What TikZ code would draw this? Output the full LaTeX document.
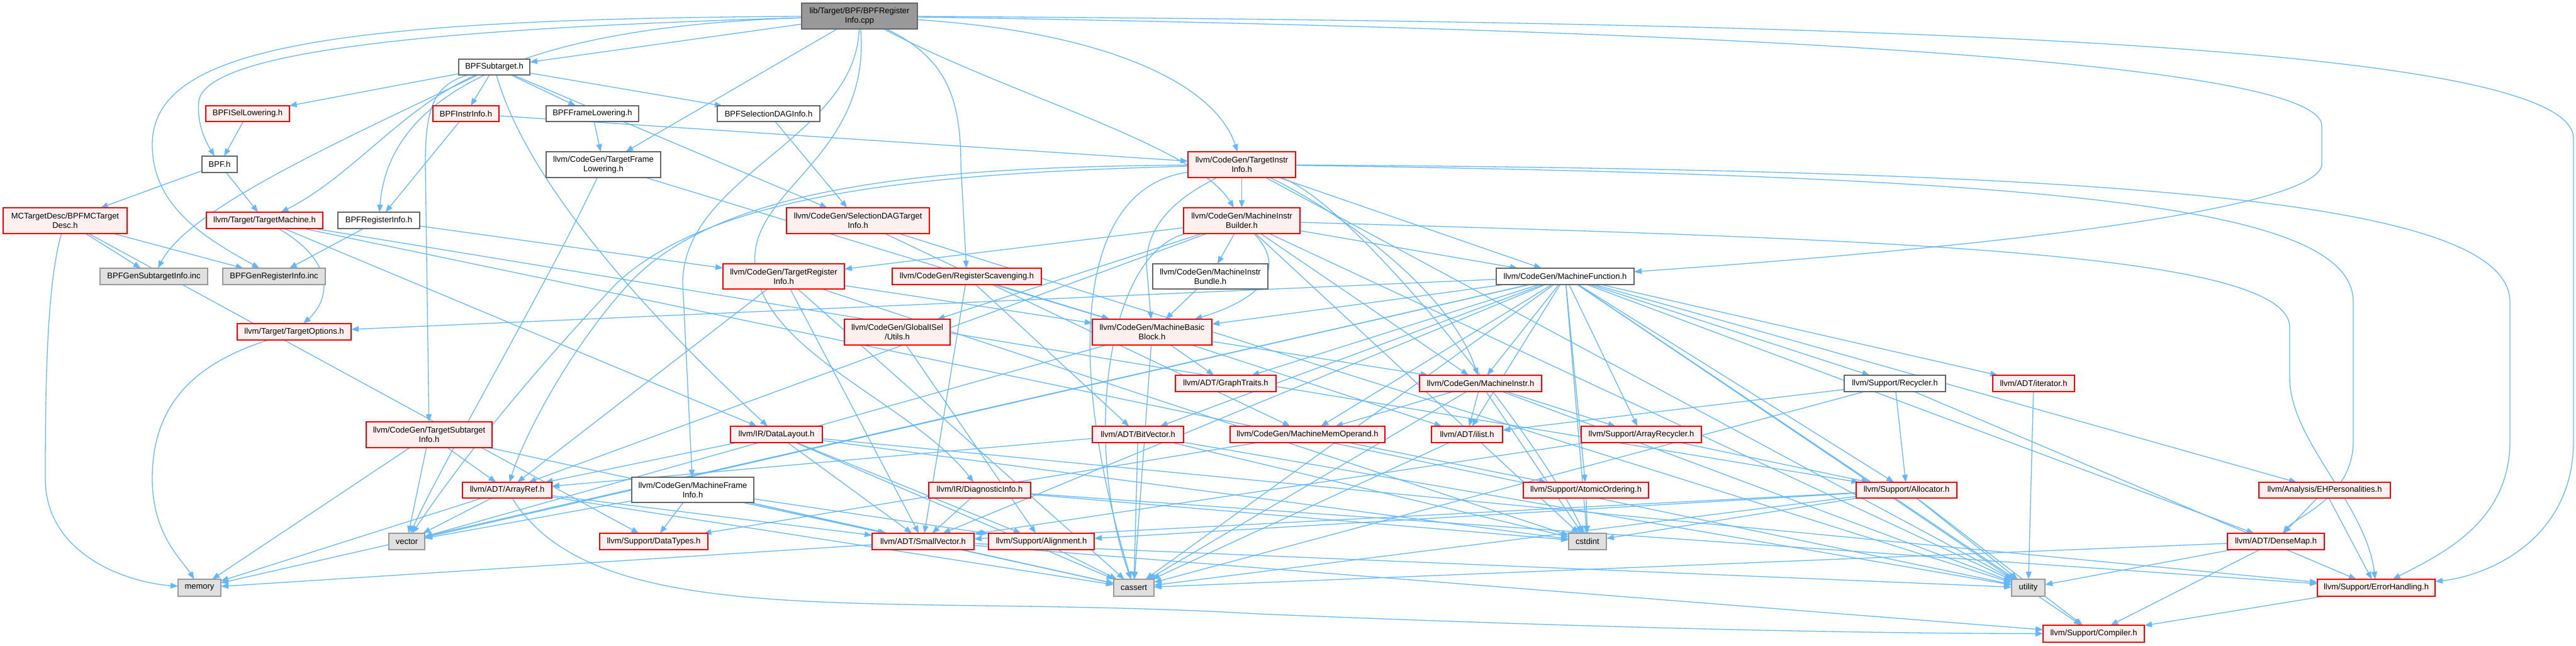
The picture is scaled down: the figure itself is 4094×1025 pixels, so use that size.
\documentclass[tikz,border=0pt]{standalone}
\usepackage{fontspec}
\setmainfont{Liberation Sans}
\usetikzlibrary{arrows.meta}
\pgfdeclarelayer{bg}
\pgfsetlayers{bg,main}
\definecolor{edgeblue}{HTML}{63B8FF}
\definecolor{redfill}{HTML}{FFF0F0}
\definecolor{grayfill}{HTML}{E0E0E0}
\definecolor{grayline}{HTML}{999999}
\definecolor{darkline}{HTML}{666666}
\newcommand\dxnode[7]{\node[#2, minimum width={(#5-#3)*1pt}, minimum height={(#6-#4)*1pt}] (#1) at ({(#3+#5)/2},{(#4+#6)/2}) {#7};}
\tikzset{
  basebox/.style={rectangle, inner sep=0pt, outer sep=0pt, align=center, font=\fontsize{13}{15}\selectfont, line width=1.5pt},
  rednode/.style={basebox, draw=red, fill=redfill},
  whitenode/.style={basebox, draw=darkline, fill=white},
  graynode/.style={basebox, draw=grayline, fill=grayfill},
  rootnode/.style={basebox, draw=darkline, fill=grayline},
  e/.style={draw=edgeblue, line width=1.3pt, -{Triangle[length=12pt,width=9pt]}, fill=none}
}
\begin{document}
\begin{tikzpicture}[x=1pt,y=-1pt]
\useasboundingbox (0,0) rectangle (4094,1025);
\dxnode{R}{rootnode}{1274}{5}{1458}{46}{lib/Target/BPF/BPFRegister\\Info.cpp}
\dxnode{SUB}{whitenode}{729}{94}{842}{119}{BPFSubtarget.h}
\dxnode{ISEL}{rednode}{327}{168}{460}{193}{BPFISelLowering.h}
\dxnode{INSTR}{rednode}{688}{168}{793}{193}{BPFInstrInfo.h}
\dxnode{FRAME}{whitenode}{868}{168}{1015}{193}{BPFFrameLowering.h}
\dxnode{SDAG}{whitenode}{1140}{168}{1303}{193}{BPFSelectionDAGInfo.h}
\dxnode{TII}{rednode}{1888}{241}{2059}{282}{llvm/CodeGen/TargetInstr\\Info.h}
\dxnode{BPF}{whitenode}{321}{248}{377}{274}{BPF.h}
\dxnode{TFL}{whitenode}{868}{241}{1050}{282}{llvm/CodeGen/TargetFrame\\Lowering.h}
\dxnode{MCTD}{rednode}{5}{330}{202}{371}{MCTargetDesc/BPFMCTarget\\Desc.h}
\dxnode{TM}{rednode}{328}{337}{513}{363}{llvm/Target/TargetMachine.h}
\dxnode{BRI}{whitenode}{537}{337}{667}{363}{BPFRegisterInfo.h}
\dxnode{SDTI}{rednode}{1250}{330}{1477}{371}{llvm/CodeGen/SelectionDAGTarget\\Info.h}
\dxnode{MIB}{rednode}{1881}{330}{2066}{371}{llvm/CodeGen/MachineInstr\\Builder.h}
\dxnode{GSI}{graynode}{159}{426}{330}{452}{BPFGenSubtargetInfo.inc}
\dxnode{GRI}{graynode}{354}{426}{517}{452}{BPFGenRegisterInfo.inc}
\dxnode{TRI}{rednode}{1149}{419}{1342}{459}{llvm/CodeGen/TargetRegister\\Info.h}
\dxnode{RS}{rednode}{1418}{426}{1655}{452}{llvm/CodeGen/RegisterScavenging.h}
\dxnode{MIBUN}{whitenode}{1832}{419}{2015}{459}{llvm/CodeGen/MachineInstr\\Bundle.h}
\dxnode{MF}{whitenode}{2378}{426}{2597}{452}{llvm/CodeGen/MachineFunction.h}
\dxnode{TO}{rednode}{377}{514}{558}{540}{llvm/Target/TargetOptions.h}
\dxnode{GIU}{rednode}{1342}{507}{1510}{548}{llvm/CodeGen/GlobalISel\\/Utils.h}
\dxnode{MBB}{rednode}{1736}{507}{1926}{548}{llvm/CodeGen/MachineBasic\\Block.h}
\dxnode{GT}{rednode}{1868}{596}{2028}{622}{llvm/ADT/GraphTraits.h}
\dxnode{MI}{rednode}{2256}{596}{2450}{622}{llvm/CodeGen/MachineInstr.h}
\dxnode{REC}{whitenode}{2931}{596}{3092}{622}{llvm/Support/Recycler.h}
\dxnode{ITER}{rednode}{3167}{596}{3297}{622}{llvm/ADT/iterator.h}
\dxnode{TSI}{rednode}{582}{670}{782}{711}{llvm/CodeGen/TargetSubtarget\\Info.h}
\dxnode{DL}{rednode}{1161}{677}{1307}{703}{llvm/IR/DataLayout.h}
\dxnode{BV}{rednode}{1736}{677}{1881}{703}{llvm/ADT/BitVector.h}
\dxnode{MMO}{rednode}{1955}{677}{2201}{703}{llvm/CodeGen/MachineMemOperand.h}
\dxnode{ILIST}{rednode}{2275}{677}{2388}{703}{llvm/ADT/ilist.h}
\dxnode{AREC}{rednode}{2513}{677}{2704}{703}{llvm/Support/ArrayRecycler.h}
\dxnode{AR}{rednode}{735}{766}{877}{791}{llvm/ADT/ArrayRef.h}
\dxnode{MFI}{whitenode}{1004}{758}{1198}{798}{llvm/CodeGen/MachineFrame\\Info.h}
\dxnode{DI}{rednode}{1476}{766}{1638}{791}{llvm/IR/DiagnosticInfo.h}
\dxnode{AO}{rednode}{2421}{766}{2620}{791}{llvm/Support/AtomicOrdering.h}
\dxnode{ALLOC}{rednode}{2950}{766}{3110}{791}{llvm/Support/Allocator.h}
\dxnode{EHP}{rednode}{3590}{766}{3799}{791}{llvm/Analysis/EHPersonalities.h}
\dxnode{VEC}{graynode}{618}{847}{675}{873}{vector}
\dxnode{DT}{rednode}{953}{847}{1125}{873}{llvm/Support/DataTypes.h}
\dxnode{SV}{rednode}{1386}{847}{1548}{873}{llvm/ADT/SmallVector.h}
\dxnode{ALIGN}{rednode}{1571}{847}{1739}{873}{llvm/Support/Alignment.h}
\dxnode{CSTDINT}{graynode}{2493}{847}{2553}{873}{cstdint}
\dxnode{DM}{rednode}{3540}{847}{3694}{873}{llvm/ADT/DenseMap.h}
\dxnode{MEM}{graynode}{283}{920}{351}{947}{memory}
\dxnode{CASSERT}{graynode}{1770}{920}{1834}{947}{cassert}
\dxnode{UTIL}{graynode}{3197}{920}{3250}{947}{utility}
\dxnode{EH}{rednode}{3683}{920}{3870}{947}{llvm/Support/ErrorHandling.h}
\dxnode{COMP}{rednode}{3247}{993}{3408}{1020}{llvm/Support/Compiler.h}
\begin{pgfonlayer}{bg}
% root
\draw[e] (R) -- (SUB);
\draw[e] (R) .. controls (700,45) and (330,80) .. (316,160) .. controls (312,200) and (330,230) .. (BPF);
\draw[e] (R) .. controls (500,30) and (242,80) .. (242,230) .. controls (242,330) and (330,380) .. (GRI);
\draw[e] (R) .. controls (900,40) and (620,120) .. (BRI);
\draw[e] (R) -- (TFL);
\draw[e] (R) .. controls (1360,220) and (1085,280) .. (1085,450) -- (MFI);
\draw[e] (R) .. controls (1385,250) and (1190,300) .. (1200,420) .. controls (1210,560) and (1450,640) .. (DI);
\draw[e] (R) .. controls (1500,90) and (1527,150) .. (1527,260) -- (RS);
\draw[e] (R) .. controls (1600,150) and (1900,230) .. (MIB);
\draw[e] (R) .. controls (1750,50) and (1930,130) .. (TII);
\draw[e] (R) .. controls (2600,45) and (3690,90) .. (3690,200) -- (3690,260) .. controls (3690,330) and (3200,390) .. (MF);
\draw[e] (R) .. controls (3000,35) and (4090,70) .. (4090,220) -- (4090,700) .. controls (4090,860) and (3950,915) .. (EH);
% BPFSubtarget
\draw[e] (SUB) -- (ISEL);
\draw[e] (SUB) -- (INSTR);
\draw[e] (SUB) -- (FRAME);
\draw[e] (SUB) -- (SDAG);
\draw[e] (SUB) -- (SDTI);
\draw[e] (SUB) .. controls (690,135) and (676,170) .. (676,260) -- (TSI);
\draw[e] (SUB) .. controls (840,300) and (1050,520) .. (DL);
\draw[e] (SUB) .. controls (640,170) and (560,280) .. (TM);
\draw[e] (SUB) .. controls (550,220) and (300,330) .. (GSI);
% row 2
\draw[e] (ISEL) -- (BPF);
\draw[e] (INSTR) -- (BRI);
\draw[e] (INSTR) -- (TII);
\draw[e] (FRAME) -- (TFL);
\draw[e] (SDAG) -- (SDTI);
% row 3
\draw[e] (BPF) -- (MCTD);
\draw[e] (BPF) -- (TM);
\draw[e] (TFL) .. controls (870,450) and (700,740) .. (VEC);
\draw[e] (TFL) -- (MBB);
\draw[e] (TII) .. controls (1500,265) and (1150,290) .. (1000,450) .. controls (900,560) and (830,700) .. (AR);
\draw[e] (TII) .. controls (3300,280) and (3740,330) .. (3740,480) -- (3740,700) .. controls (3740,790) and (3650,820) .. (DM);
\draw[e] (TII) .. controls (1900,300) and (1822,340) .. (1822,420) -- (MBB);
\draw[e] (TII) -- (MF);
\draw[e] (TII) .. controls (2100,320) and (2300,450) .. (MI);
\draw[e] (TII) -- (MIB);
\draw[e] (TII) .. controls (3400,270) and (3989,320) .. (3989,480) -- (3989,700) .. controls (3989,830) and (3880,880) .. (EH);
\draw[e] (TII) .. controls (1700,300) and (1700,600) .. (CASSERT);
\draw[e] (TII) .. controls (2150,320) and (2450,700) .. (CSTDINT);
\draw[e] (TII) -- (UTIL);
\draw[e] (TII) .. controls (1500,275) and (1140,300) .. (980,450) .. controls (800,640) and (700,780) .. (VEC);
% row 4
\draw[e] (MCTD) -- (GSI);
\draw[e] (MCTD) -- (GRI);
\draw[e] (MCTD) .. controls (75,450) and (72,600) .. (72,760) .. controls (72,880) and (200,925) .. (MEM);
\draw[e] (MCTD) -- (DT);
\draw[e] (TM) .. controls (540,420) and (520,480) .. (TO);
\draw[e] (TM) -- (DL);
\draw[e] (TM) -- (ALLOC);
\draw[e] (TM) -- (UTIL);
\draw[e] (BRI) -- (GRI);
\draw[e] (BRI) -- (TRI);
\draw[e] (SDTI) -- (MMO);
\draw[e] (SDTI) -- (UTIL);
\draw[e] (MIB) -- (AR);
\draw[e] (MIB) -- (GIU);
\draw[e] (MIB) .. controls (2040,420) and (2020,470) .. (MBB);
\draw[e] (MIB) -- (MF);
\draw[e] (MIB) -- (MI);
\draw[e] (MIB) -- (MIBUN);
\draw[e] (MIB) -- (TRI);
\draw[e] (MIB) .. controls (3000,380) and (3639,400) .. (3639,520) -- (3639,600) .. controls (3639,700) and (3760,800) .. (EH);
\draw[e] (MIB) .. controls (1760,400) and (1720,700) .. (CASSERT);
\draw[e] (MIB) -- (CSTDINT);
\draw[e] (MIB) -- (UTIL);
% row 5
\draw[e] (TRI) -- (AR);
\draw[e] (TRI) -- (SV);
\draw[e] (TRI) -- (MBB);
\draw[e] (TRI) -- (CASSERT);
\draw[e] (TRI) -- (CSTDINT);
\draw[e] (RS) -- (BV);
\draw[e] (RS) -- (SV);
\draw[e] (RS) -- (MBB);
\draw[e] (MIBUN) -- (MBB);
\draw[e] (MF) -- (AREC);
\draw[e] (MF) -- (BV);
\draw[e] (MF) -- (DM);
\draw[e] (MF) -- (GT);
\draw[e] (MF) -- (SV);
\draw[e] (MF) -- (ILIST);
\draw[e] (MF) -- (ITER);
\draw[e] (MF) -- (EHP);
\draw[e] (MF) -- (MBB);
\draw[e] (MF) -- (MI);
\draw[e] (MF) -- (MMO);
\draw[e] (MF) -- (ALLOC);
\draw[e] (MF) -- (AO);
\draw[e] (MF) -- (COMP);
\draw[e] (MF) -- (REC);
\draw[e] (MF) -- (TO);
\draw[e] (MF) -- (CASSERT);
\draw[e] (MF) -- (CSTDINT);
\draw[e] (MF) -- (MEM);
\draw[e] (MF) -- (UTIL);
\draw[e] (MF) -- (VEC);
% row 6
\draw[e] (TO) .. controls (300,580) and (242,650) .. (242,760) .. controls (242,850) and (290,890) .. (MEM);
\draw[e] (GIU) -- (ALIGN);
\draw[e] (MBB) -- (GT);
\draw[e] (MBB) -- (ILIST);
\draw[e] (MBB) -- (MI);
\draw[e] (MBB) -- (CASSERT);
\draw[e] (MBB) -- (VEC);
% row 7
\draw[e] (MI) -- (ILIST);
\draw[e] (MI) -- (MMO);
\draw[e] (MI) -- (AREC);
\draw[e] (MI) -- (CASSERT);
\draw[e] (MI) -- (CSTDINT);
\draw[e] (MI) -- (UTIL);
\draw[e] (REC) -- (ALLOC);
\draw[e] (REC) -- (EH);
\draw[e] (REC) -- (CASSERT);
\draw[e] (REC) -- (ILIST);
\draw[e] (ITER) -- (UTIL);
% row 8
\draw[e] (TSI) -- (AR);
\draw[e] (TSI) -- (SV);
\draw[e] (TSI) -- (MEM);
\draw[e] (TSI) -- (VEC);
\draw[e] (DL) -- (AR);
\draw[e] (DL) -- (SV);
\draw[e] (DL) -- (ALIGN);
\draw[e] (DL) -- (EH);
\draw[e] (DL) -- (CASSERT);
\draw[e] (DL) -- (CSTDINT);
\draw[e] (BV) -- (AR);
\draw[e] (BV) -- (CASSERT);
\draw[e] (BV) -- (CSTDINT);
\draw[e] (BV) -- (UTIL);
\draw[e] (MMO) -- (AO);
\draw[e] (MMO) -- (DT);
\draw[e] (ILIST) -- (CASSERT);
\draw[e] (AREC) -- (SV);
\draw[e] (AREC) -- (ALLOC);
% row 9
\draw[e] (AR) -- (SV);
\draw[e] (AR) .. controls (950,1010) and (1400,940) .. (2000,975) .. controls (2600,1000) and (3000,1006) .. (COMP);
\draw[e] (AR) -- (CASSERT);
\draw[e] (AR) -- (MEM);
\draw[e] (AR) -- (VEC);
\draw[e] (MFI) -- (SV);
\draw[e] (MFI) -- (ALIGN);
\draw[e] (MFI) -- (DT);
\draw[e] (MFI) -- (CASSERT);
\draw[e] (MFI) -- (VEC);
\draw[e] (DI) -- (SV);
\draw[e] (DI) -- (EH);
\draw[e] (DI) -- (CSTDINT);
\draw[e] (AO) -- (CSTDINT);
\draw[e] (ALLOC) -- (SV);
\draw[e] (ALLOC) -- (ALIGN);
\draw[e] (ALLOC) -- (COMP);
\draw[e] (ALLOC) -- (CASSERT);
\draw[e] (ALLOC) -- (CSTDINT);
\draw[e] (ALLOC) -- (UTIL);
\draw[e] (EHP) -- (DM);
\draw[e] (EHP) -- (EH);
% row 10
\draw[e] (SV) -- (COMP);
\draw[e] (SV) -- (CASSERT);
\draw[e] (SV) -- (MEM);
\draw[e] (SV) -- (UTIL);
\draw[e] (ALIGN) -- (CASSERT);
\draw[e] (DM) -- (COMP);
\draw[e] (DM) -- (CASSERT);
\draw[e] (DM) -- (UTIL);
% row 11
\draw[e] (EH) -- (COMP);
\end{pgfonlayer}
\end{tikzpicture}
\end{document}
